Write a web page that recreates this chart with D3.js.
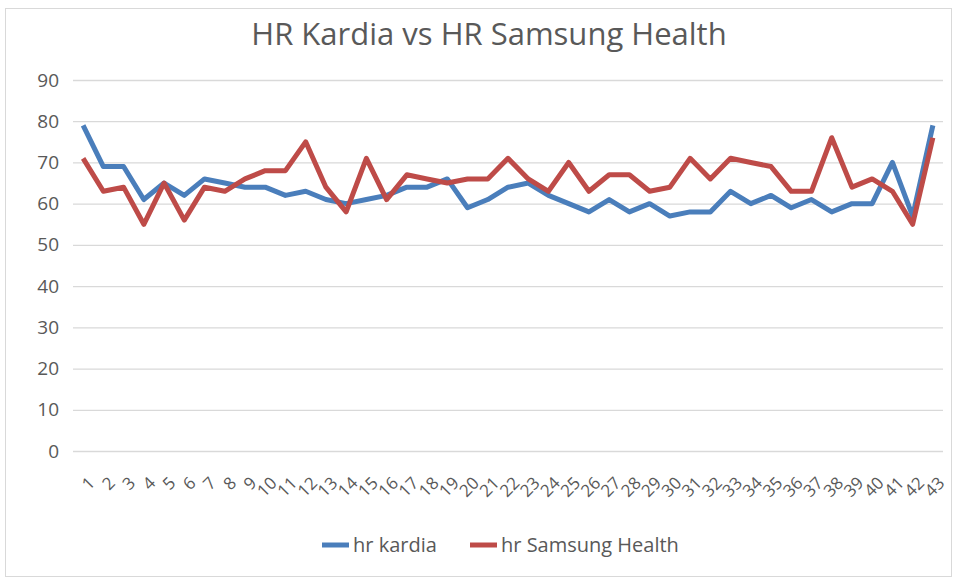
<!DOCTYPE html>
<html>
  <head>
    <meta charset="utf-8">
    <title>HR Kardia vs HR Samsung Health</title>
    <script src="https://cdn.jsdelivr.net/npm/d3@7"></script>
    <style>
      body { margin: 0; background: #fff; }
      svg text { font-family: "Open Sans", "Liberation Sans", sans-serif; fill: #595959; }
    </style>
  </head>
  <body>
    <svg id="chart" width="958" height="580"></svg>
    <script>
      // data
      const days = d3.range(1, 44);
      const hrKardia = [79, 69, 69, 61, 65, 62, 66, 65, 64, 64, 62, 63, 61, 60, 61, 62, 64, 64, 66, 59,
        61, 64, 65, 62, 60, 58, 61, 58, 60, 57, 58, 58, 63, 60, 62, 59, 61, 58, 60, 60, 70, 57, 79];
      const hrSamsung = [71, 63, 64, 55, 65, 56, 64, 63, 66, 68, 68, 75, 64, 58, 71, 61, 67, 66, 65, 66,
        66, 71, 66, 63, 70, 63, 67, 67, 63, 64, 71, 66, 71, 70, 69, 63, 63, 76, 64, 66, 63, 55, 76];
      const yTicks = [0, 10, 20, 30, 40, 50, 60, 70, 80, 90];
      const seriesNames = ["hr kardia", "hr Samsung Health"];
      const colours = ["#4a7ebb", "#be4b48"];

      const svg = d3.select("#chart");

      // outer border
      svg.append("rect")
        .attr("x", 5.5).attr("y", 8.5)
        .attr("width", 946).attr("height", 568)
        .attr("fill", "#fff")
        .attr("stroke", "#d9d9d9");

      // title
      svg.append("text")
        .attr("x", 489).attr("y", 45)
        .attr("text-anchor", "middle")
        .style("font-size", "31px")
        .text("HR Kardia vs HR Samsung Health");

      // scales
      const x = d3.scalePoint()
        .domain(days)
        .range([73, 943])
        .padding(0.5);
      const y = d3.scaleLinear()
        .domain([0, 90])
        .range([451, 80]);

      // gridlines
      svg.append("g")
        .selectAll("line")
        .data(yTicks)
        .join("line")
          .attr("x1", 73).attr("x2", 943)
          .attr("y1", function(d) { return y(d) + 0.5; })
          .attr("y2", function(d) { return y(d) + 0.5; })
          .attr("stroke", "#d9d9d9")
          .attr("stroke-width", 1.3);

      // y axis labels
      const yAxis = d3.axisLeft(y)
        .tickValues(yTicks)
        .tickSize(0)
        .tickPadding(14);
      svg.append("g")
        .attr("transform", "translate(73,0)")
        .call(yAxis)
        .call(function(g) { g.select(".domain").remove(); })
        .selectAll("text")
          .style("font-size", "19px")
          .style("font-family", null);

      // x axis labels
      const xAxis = d3.axisBottom(x)
        .tickSize(0)
        .tickPadding(0);
      svg.append("g")
        .attr("transform", "translate(0,458)")
        .call(xAxis)
        .call(function(g) { g.select(".domain").remove(); })
        .selectAll("text")
          .style("font-size", "17px")
          .style("font-family", null)
          .attr("text-anchor", "end")
          .attr("dy", "0.35em")
          .attr("transform", "translate(8,22) rotate(-45)");

      // lines
      const line = d3.line()
        .x(function(d, i) { return x(days[i]); })
        .y(function(d) { return y(d); });

      [hrKardia, hrSamsung].forEach(function(series, i) {
        svg.append("path")
          .datum(series)
          .attr("fill", "none")
          .attr("stroke", colours[i])
          .attr("stroke-width", 5)
          .attr("stroke-linejoin", "round")
          .attr("d", line);
      });

      // legend
      const legendX = [322, 470];
      seriesNames.forEach(function(name, i) {
        const g = svg.append("g")
          .attr("transform", "translate(" + legendX[i] + ",545)");
        g.append("line")
          .attr("x1", 0).attr("x2", 27)
          .attr("stroke", colours[i])
          .attr("stroke-width", 5);
        g.append("text")
          .attr("x", 31)
          .attr("dy", "0.35em")
          .style("font-size", "20px")
          .text(name);
      });
    </script>
  </body>
</html>
